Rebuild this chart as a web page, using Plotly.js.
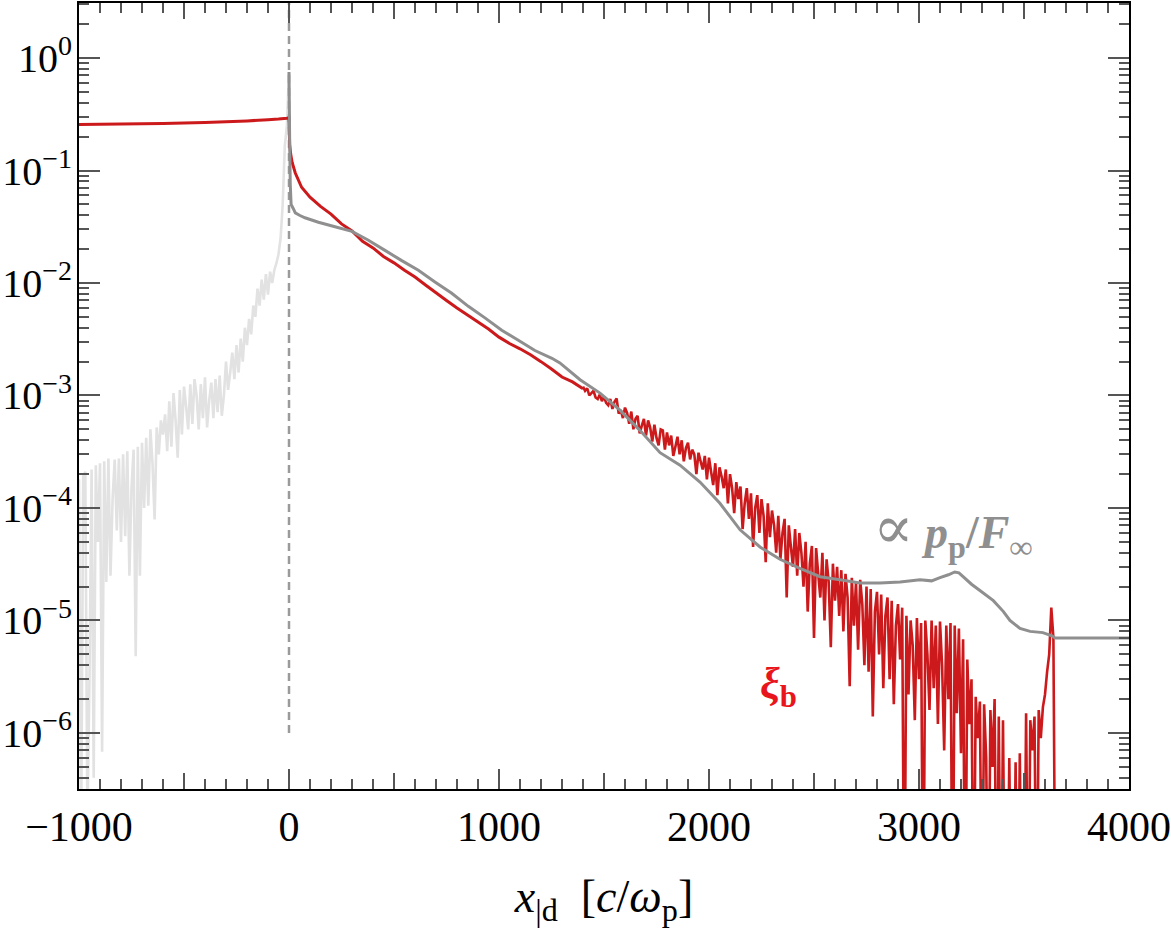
<!DOCTYPE html>
<html>
<head>
<meta charset="utf-8">
<script src="https://cdn.plot.ly/plotly-3.0.1.min.js"></script>
<style>
  html, body { margin: 0; padding: 0; background: #fff; }
  #chart { width: 1171px; height: 932px; }
</style>
</head>
<body>
<div id="chart"></div>
<script>
// ---------------------------------------------------------------
// Upstream precursor (x < 0), light grey, sampled every 10 c/w_p
// ---------------------------------------------------------------
const upStart = -1000, upStep = 10;
const upY = [
  1.8e-4, 1.0e-7, 1.9e-4, 2.1e-4, 1.6e-7, 3.2e-6, 2.2e-4, 4.0e-7, 2.4e-4, 5.0e-5,
  2.5e-4, 6.8e-7, 2.6e-4, 2.2e-5, 2.75e-4, 2.5e-5, 1.2e-4, 2.7e-4, 6.3e-5, 2.75e-4,
  5.0e-5, 3.0e-4, 5.6e-5, 3.2e-4, 2.5e-5, 1.5e-4, 3.3e-4, 4.8e-6, 3.5e-4, 2.5e-5,
  3.8e-4, 1.0e-4, 4.2e-4, 1.05e-4, 5.0e-4, 2.5e-4, 7.9e-5, 5.2e-4, 3.0e-4, 6.0e-4,
  4.5e-4, 6.8e-4, 3.2e-4, 8.9e-4, 3.5e-4, 1.05e-3, 6.0e-4, 2.8e-4, 1.12e-3, 4.5e-4,
  1.2e-3, 8.0e-4, 5.0e-4, 1.26e-3, 5.6e-4, 1.4e-3, 1.0e-3, 5.0e-4, 1.26e-3, 6.3e-4,
  1.45e-3, 5.2e-4, 9.0e-4, 1.3e-3, 6.3e-4, 1.4e-3, 7.1e-4, 1.5e-3, 6.6e-4, 1.0e-3,
  2.0e-3, 1.12e-3, 1.6e-3, 2.4e-3, 1.4e-3, 2.8e-3, 1.6e-3, 3.2e-3, 2.0e-3, 4.0e-3,
  2.8e-3, 4.8e-3, 3.5e-3, 6.3e-3, 5.0e-3, 8.9e-3, 6.3e-3, 1.07e-2, 7.1e-3, 1.2e-2,
  7.9e-3, 1.26e-2, 1.0e-2, 1.3e-2, 1.5e-2, 1.8e-2, 2.5e-2, 5.0e-2, 0.166, 0.25,
  0.74
];

// ---------------------------------------------------------------
// xi_b : upstream plateau and smooth downstream decay
// ---------------------------------------------------------------
const xiX = [
  -1000, -900, -800, -700, -600, -500, -400, -300, -200, -100, -50, -10, 0,
  3, 8, 15, 30, 60, 100, 150, 200, 250, 300, 350, 400, 450, 500, 550, 600,
  650, 700, 750, 800, 850, 900, 950, 1000, 1050, 1100, 1150, 1200, 1250,
  1300, 1350, 1400
];
const xiY = [
  0.257, 0.258, 0.259, 0.26, 0.262, 0.264, 0.267, 0.271, 0.276, 0.283, 0.287, 0.292, 0.295,
  0.17, 0.14, 0.118, 0.095, 0.071, 0.058, 0.048, 0.041, 0.0335, 0.029, 0.0235, 0.0205,
  0.0172, 0.0151, 0.013, 0.0113, 0.0096, 0.0082, 0.007, 0.006, 0.0052, 0.0045, 0.0039,
  0.0033, 0.0029, 0.0026, 0.0023, 0.002, 0.00172, 0.00146, 0.00132, 0.00115
];

// xi_b : noisy tail, sampled every 10 c/w_p from 1400 to 3650
const tailStart = 1400, tailStep = 10;
const xiTail = [
  1.2e-3, 1.1e-3, 1.16e-3, 1.0e-3, 1.05e-3, 1.1e-3, 9.6e-4, 9.3e-4, 1.02e-3, 8.9e-4,
  9.8e-4, 8.6e-4, 8.2e-4, 9.3e-4, 7.6e-4, 8.8e-4, 9.4e-4, 6.9e-4, 7.4e-4, 6.3e-4,
  7.8e-4, 7.0e-4, 5.6e-4, 7.2e-4, 5.0e-4, 6.2e-4, 6.6e-4, 4.6e-4, 5.4e-4, 6.2e-4,
  4.4e-4, 6.0e-4, 5.2e-4, 3.9e-4, 5.5e-4, 4.2e-4, 3.6e-4, 5.0e-4, 4.9e-4, 3.3e-4,
  4.7e-4, 3.6e-4, 4.4e-4, 2.9e-4, 3.5e-4, 4.3e-4, 3.0e-4, 4.0e-4, 2.6e-4, 3.4e-4,
  3.8e-4, 2.7e-4, 3.3e-4, 3.0e-4, 2.0e-4, 3.1e-4, 2.6e-4, 2.2e-4, 2.9e-4, 1.8e-4,
  2.8e-4, 2.1e-4, 1.6e-4, 2.5e-4, 1.3e-4, 2.3e-4, 1.9e-4, 1.5e-4, 2.2e-4, 1.1e-4,
  2.0e-4, 1.5e-4, 9.0e-5, 1.7e-4, 1.2e-4, 1.55e-4, 6.5e-5, 1.1e-4, 1.5e-4, 8.0e-5,
  1.35e-4, 4.5e-5, 1.0e-4, 1.3e-4, 6.0e-5, 1.2e-4, 8.5e-5, 3.3e-5, 1.1e-4, 5.5e-5,
  9.5e-5, 7.0e-5, 4.0e-5, 8.5e-5, 3.5e-5, 6.0e-5, 8.0e-5, 1.6e-5, 7.0e-5, 4.5e-5,
  3.0e-5, 6.5e-5, 2.5e-5, 6.0e-5, 4.0e-5, 2.0e-5, 5.0e-5, 1.2e-5, 3.2e-5, 4.6e-5,
  7.0e-6, 4.4e-5, 2.6e-5, 1.6e-5, 4.0e-5, 1.0e-5, 3.5e-5, 2.2e-5, 5.8e-6, 3.2e-5,
  1.5e-5, 3.0e-5, 1.1e-5, 2.8e-5, 8.0e-6, 2.6e-5, 1.6e-5, 2.6e-6, 2.4e-5, 9.0e-6,
  2.2e-5, 5.5e-6, 2.3e-5, 1.4e-5, 4.0e-6, 2.0e-5, 3.5e-6, 1.9e-5, 1.4e-6, 1.2e-5,
  1.8e-5, 5.0e-6, 1.7e-5, 2.5e-6, 1.1e-5, 1.6e-5, 3.0e-6, 1.5e-5, 1.8e-6, 9.0e-6,
  1.4e-5, 4.5e-6, 1.3e-5, 1.0e-8, 1.1e-5, 2.2e-6, 1.0e-5, 6.0e-6, 1.3e-6, 1.05e-5,
  3.0e-6, 9.5e-6, 1.0e-8, 1.0e-5, 5.0e-6, 1.6e-6, 1.0e-5, 2.5e-6, 9.0e-6, 1.2e-6,
  9.8e-6, 4.0e-6, 7.0e-7, 9.0e-6, 2.0e-6, 9.5e-6, 1.0e-8, 9.0e-6, 1.5e-6, 8.5e-6,
  6.6e-7, 6.8e-6, 1.0e-8, 4.5e-6, 1.2e-6, 3.0e-6, 1.0e-8, 2.1e-6, 9.0e-7, 1.9e-6,
  1.0e-8, 1.8e-6, 6.0e-7, 1.0e-8, 1.6e-6, 5.0e-7, 2.0e-6, 1.0e-8, 1.4e-6, 1.0e-8,
  1.3e-6, 1.0e-8, 1.0e-8, 6.0e-7, 1.0e-8, 1.0e-8, 5.5e-7, 1.0e-8, 6.6e-7, 1.0e-8,
  1.0e-8, 1.5e-6, 1.0e-8, 1.3e-6, 7.0e-7, 1.4e-6, 1.0e-8, 1.6e-6, 9.0e-7, 1.7e-6,
  2.2e-6, 3.5e-6, 5.0e-6, 1.3e-5, 7.0e-6, 1.0e-8
];

// ---------------------------------------------------------------
// p_p / F_inf, grey
// ---------------------------------------------------------------
const ppX = [
  0, 3, 6, 10, 20, 30, 50, 76, 140, 219, 300, 378, 457, 537, 616, 695, 775, 854,
  933, 1013, 1092, 1171, 1252, 1290, 1386, 1481, 1576, 1671, 1767, 1862, 1957,
  2052, 2148, 2243, 2338, 2433, 2529, 2624, 2719, 2814, 2910, 3005, 3060, 3100,
  3140, 3170, 3190, 3210, 3250, 3290, 3354, 3402, 3433, 3481, 3529, 3590, 3633,
  3648, 4000
];
const ppY = [
  0.75, 0.2, 0.075, 0.05, 0.046, 0.042, 0.04, 0.038, 0.0347, 0.0316, 0.0288, 0.024,
  0.0195, 0.0158, 0.013, 0.0102, 0.0081, 0.0062, 0.0049, 0.0038, 0.0031, 0.00251,
  0.00214, 0.00195, 0.00138, 0.00105, 7.4e-4, 4.9e-4, 3.1e-4, 2.4e-4, 1.7e-4,
  1.1e-4, 6.4e-5, 4.5e-5, 3.5e-5, 2.9e-5, 2.45e-5, 2.3e-5, 2.15e-5, 2.15e-5,
  2.2e-5, 2.3e-5, 2.25e-5, 2.4e-5, 2.55e-5, 2.7e-5, 2.65e-5, 2.45e-5, 2.1e-5,
  1.85e-5, 1.5e-5, 1.2e-5, 1.0e-5, 8.5e-6, 8.0e-6, 7.8e-6, 7.3e-6, 7.0e-6, 7.0e-6
];

// shock marker
const shockX = [0, 0];
const shockY = [1e-6, 3.1];

// axis ticks
const xTickVals = [-1000, 0, 1000, 2000, 3000, 4000];
const xTickText = ['\u22121000', '0', '1000', '2000', '3000', '4000'];
const xMidTicks = [-500, 500, 1500, 2500, 3500];
const yTickVals = [1e-6, 1e-5, 1e-4, 1e-3, 1e-2, 1e-1, 1];
const yTickText = ['10<sup>\u22126</sup>', '10<sup>\u22125</sup>', '10<sup>\u22124</sup>',
  '10<sup>\u22123</sup>', '10<sup>\u22122</sup>', '10<sup>\u22121</sup>', '10<sup>0</sup>'];

const seq = (start, step, n) => Array.from({length: n}, (_, i) => start + i * step);

const yMinor = [];
for (let e = -7; e <= 0; e++) {
  for (let m = 2; m <= 9; m++) yMinor.push(m * Math.pow(10, e));
}

const RED = '#cc1a1c';
const GREY = '#8f8f8f';
const LIGHT = '#e2e2e2';

const traces = [
  { x: seq(upStart, upStep, upY.length), y: upY, mode: 'lines', hoverinfo: 'skip',
    line: { color: LIGHT, width: 2.6, simplify: false } },
  { x: shockX, y: shockY, mode: 'lines', hoverinfo: 'skip',
    line: { color: '#9a9a9a', width: 2.5, dash: '8px,5px' } },
  { x: xiX, y: xiY, mode: 'lines', hoverinfo: 'skip',
    line: { color: RED, width: 3, simplify: false } },
  { x: seq(tailStart, tailStep, xiTail.length), y: xiTail, mode: 'lines', hoverinfo: 'skip',
    line: { color: RED, width: 2.6, simplify: false } },
  { x: ppX, y: ppY, mode: 'lines', hoverinfo: 'skip',
    line: { color: GREY, width: 3, simplify: false } }
];

const FONT = 'Liberation Serif, DejaVu Serif, serif';
const tickStyle = { ticks: 'inside', tickwidth: 2, tickcolor: '#555' };

// medium-length ticks at the half-thousands, bottom and top edges
const shapes = [];
xMidTicks.forEach(v => {
  shapes.push({ type: 'line', xref: 'x', yref: 'paper', ysizemode: 'pixel', yanchor: 0,
    x0: v, x1: v, y0: 0, y1: 16, line: { color: '#555', width: 2 } });
  shapes.push({ type: 'line', xref: 'x', yref: 'paper', ysizemode: 'pixel', yanchor: 1,
    x0: v, x1: v, y0: 0, y1: -16, line: { color: '#555', width: 2 } });
});

const layout = {
  width: 1171, height: 932,
  margin: { l: 79, r: 42, t: 3, b: 143, pad: 0 },
  paper_bgcolor: '#ffffff', plot_bgcolor: '#ffffff',
  showlegend: false,
  font: { family: FONT, color: '#000', size: 42 },
  xaxis: Object.assign({
    range: [-1000, 4000], tickmode: 'array', tickvals: xTickVals, ticktext: xTickText,
    ticklen: 20, showline: true, linecolor: '#000', linewidth: 2, mirror: 'allticks',
    showgrid: false, zeroline: false, tickfont: { family: FONT, size: 42 },
    minor: { dtick: 100, tick0: 0, ticklen: 10, tickwidth: 2, tickcolor: '#555', ticks: 'inside', showgrid: false },
    title: { text: '<i>x</i><sub>|d</sub>  [<i>c</i>/<i>\u03c9</i><sub>p</sub>]', font: { family: FONT, size: 46 }, standoff: 30 }
  }, tickStyle),
  yaxis: Object.assign({
    type: 'log', range: [-6.498, 0.489], tickmode: 'array', tickvals: yTickVals, ticktext: yTickText,
    ticklen: 21, showline: true, linecolor: '#000', linewidth: 2, mirror: 'allticks',
    showgrid: false, zeroline: false, tickfont: { family: FONT, size: 40 },
    ticklabelstandoff: -3,
    minor: { tickmode: 'array', tickvals: yMinor, ticklen: 10, tickwidth: 2, tickcolor: '#555', ticks: 'inside', showgrid: false }
  }, tickStyle),
  shapes: shapes,
  annotations: [
    { xref: 'paper', yref: 'paper', x: 0.832, y: 0.3295, xanchor: 'center', yanchor: 'middle',
      showarrow: false,
      text: '<span style="font-size:60px">\u221d</span> <b><i>p</i><sub>p</sub>/<i>F</i><sub>\u221e</sub></b>',
      font: { family: FONT, size: 46, color: GREY } },
    { xref: 'paper', yref: 'paper', x: 0.666, y: 0.131, xanchor: 'center', yanchor: 'middle',
      showarrow: false,
      text: '<b><i>\u03be</i><sub>b</sub></b>',
      font: { family: FONT, size: 44, color: '#e8161c' } }
  ]
};

Plotly.newPlot('chart', traces, layout, { displayModeBar: false, staticPlot: true });
</script>
</body>
</html>
